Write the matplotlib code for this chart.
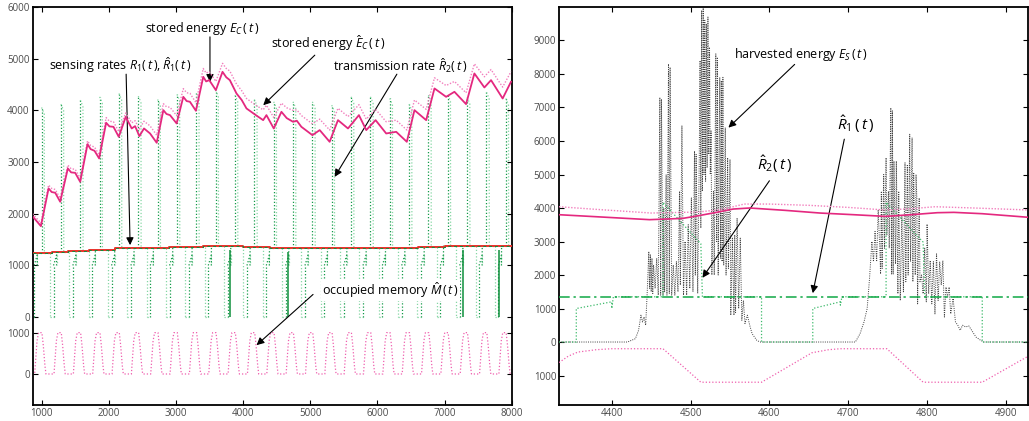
import numpy as np
import matplotlib
matplotlib.use('Agg')
import matplotlib.pyplot as plt
from matplotlib.collections import LineCollection

plt.rcParams['font.family'] = ['Open Sans', 'DejaVu Sans']
plt.rcParams['mathtext.fontset'] = 'custom'
plt.rcParams['mathtext.rm'] = 'Open Sans'
plt.rcParams['mathtext.it'] = 'Open Sans:italic'
plt.rcParams['mathtext.bf'] = 'Open Sans:bold'

# ---------------- LEFT PANEL DATA ----------------
ec_t = [866, 990, 1104, 1150, 1203, 1277, 1391, 1440, 1500, 1575, 1684, 1730, 1788, 1857, 1961,
        2010, 2070, 2149, 2253, 2342, 2392, 2456, 2525, 2615, 2714, 2813, 2860, 2912, 3011, 3110,
        3160, 3209, 3298, 3407, 3450, 3496, 3595, 3694, 3750, 3803, 3902, 3980, 4051, 4190, 4299,
        4348, 4457, 4571, 4650, 4744, 4800, 4868, 5032, 5141, 5289, 5413, 5562, 5725, 5834, 5973,
        6131, 6280, 6438, 6552, 6726, 6850, 7023, 7147, 7320, 7444, 7593, 7692, 7865, 7989]
ec_v = [1950, 1760, 2490, 2420, 2406, 2232, 2876, 2800, 2792, 2618, 3347, 3250, 3218, 3070, 3760,
        3690, 3682, 3489, 3875, 3650, 3695, 3502, 3650, 3553, 3373, 4004, 3930, 3908, 3747, 4262,
        4180, 4166, 3992, 4649, 4560, 4585, 4391, 4746, 4640, 4585, 4327, 4200, 4037, 3908, 3811,
        3908, 3650, 3972, 3850, 3779, 3800, 3682, 3521, 3618, 3392, 3811, 3650, 3908, 3618, 3811,
        3553, 3585, 3392, 4004, 3811, 4424, 4262, 4359, 4121, 4714, 4443, 4585, 4230, 4553]
ec_hat_v = [2000, 1820, 2555, 2490, 2470, 2300, 2940, 2870, 2860, 2690, 3410, 3320, 3290, 3140, 3860,
            3790, 3780, 3590, 3950, 3760, 3800, 3640, 3790, 3700, 3520, 4130, 4070, 4060, 3900, 4420,
            4340, 4330, 4150, 4810, 4720, 4750, 4560, 4910, 4810, 4760, 4510, 4380, 4230, 4100, 4010,
            4100, 3860, 4140, 4050, 4000, 4010, 3900, 3740, 3830, 3620, 4040, 3880, 4110, 3830, 4020,
            3780, 3810, 3620, 4200, 4020, 4630, 4480, 4560, 4340, 4900, 4650, 4790, 4450, 4750]

# sensing rate R1 (step values)
r1_t = [865, 1160, 1400, 1700, 2100, 2900, 3400, 4000, 4400, 5000, 5500, 6600, 7000, 7500, 8000]
r1_v = [1232, 1255, 1280, 1300, 1330, 1350, 1385, 1360, 1345, 1335, 1330, 1360, 1385, 1375, 1375]
r1_drop_t = [3803, 4670, 7268, 7812]
r1_drop_v = [0, 0, 0, 0]

# daily transmission bursts (R2 hat)
spike_times = [1000, 1288, 1576, 1864, 2152, 2440, 2728, 3016, 3304, 3592, 3880, 4168, 4456,
               4744, 5032, 5320, 5608, 5896, 6184, 6472, 6760, 7048, 7336, 7624, 7912]
spike_peaks = [4056, 4121, 4198, 4262, 4327, 4275, 4211, 4308, 4327, 4391, 4295, 4211, 4166,
               4166, 4166, 4101, 4262, 4262, 4230, 4121, 4295, 4295, 4250, 4350, 4230]
r2_off = [-110, -110, -65, -65, -63, 0, 0, 40, 42, 125, 125]
r2_kind = ['zero', 'start', 'ramp', 'start', 'lvl', 'lvl', 'peak', 'tail', 'lvl', 'lvl', 'zero']
r2_start, r2_ramp, r2_tail_drop = 1000, 1200, 120

# occupied memory (daily shape)
mem_off = [-45, 5, 25, 50, 65, 185, 200, 220]
mem_val = [1000, 1000, 700, 200, 0, 0, 350, 800]
mem_offset, mem_scale = -1100, 0.8

# ---------------- RIGHT PANEL DATA ----------------
es_t = [4333, 4420, 4430, 4434, 4437, 4439, 4441, 4443, 4445, 4447, 4448, 4449, 4450, 4451, 4452,
        4453, 4455, 4457, 4459, 4461, 4462, 4463, 4465, 4466, 4467, 4469, 4470, 4472, 4473, 4474,
        4476, 4478, 4480, 4482, 4484, 4486, 4487, 4489, 4491, 4493, 4495, 4497, 4499, 4501, 4503,
        4505, 4506, 4507, 4509, 4511, 4512, 4513, 4514, 4515, 4516, 4517, 4518, 4519, 4520, 4521,
        4522, 4523, 4524, 4525, 4526, 4527, 4529, 4530, 4532, 4533, 4534, 4535, 4537, 4538, 4539,
        4540, 4541, 4542, 4544, 4545, 4547, 4548, 4550, 4551, 4553, 4555, 4556, 4557, 4559, 4561,
        4563, 4565, 4567, 4569, 4572, 4575, 4578, 4584, 4588,
        4709, 4715, 4720, 4724, 4727, 4730, 4732, 4734, 4736, 4738, 4740, 4741, 4742, 4743, 4745,
        4746, 4748, 4749, 4751, 4752, 4754, 4755, 4756, 4757, 4758, 4760, 4761, 4763, 4764, 4766,
        4768, 4770, 4772, 4773, 4775, 4776, 4778, 4779, 4781, 4782, 4783, 4785, 4786, 4787, 4788,
        4790, 4791, 4793, 4795, 4797, 4799, 4800, 4802, 4804, 4806, 4808, 4810, 4812, 4814, 4816,
        4818, 4820, 4822, 4824, 4826, 4828, 4830, 4833, 4836, 4839, 4842, 4845, 4849, 4853, 4858,
        4862, 4868, 4872, 4928]
es_v = [0, 0, 100, 350, 800, 600, 750, 500, 1500, 2700, 1600, 2600, 1500, 2500, 1450,
        2300, 1600, 2500, 1400, 7300, 1400, 7250, 1400, 4000, 1500, 5000, 1400, 8300, 1450, 8200,
        1400, 2300, 1400, 2400, 1500, 4500, 1700, 6450, 1400, 3000, 1400, 3500, 1600, 4300, 1500,
        5700, 2000, 5600, 1450, 5500, 8400, 3400, 9900, 4500, 9970, 5000, 9600, 4800, 9500, 5200,
        9700, 5600, 8800, 5000, 6300, 2000, 4500, 2000, 8600, 3000, 8500, 2000, 7900, 2500, 7800,
        2400, 7900, 2300, 6400, 2000, 5500, 2200, 5450, 800, 3100, 800, 3200, 850, 3700, 1000,
        3100, 650, 1240, 550, 800, 500, 250, 50, 0,
        0, 250, 600, 1000, 1900, 3000, 2400, 3300, 2400, 3950, 2800, 2030, 4500, 2200, 5000,
        2800, 5500, 3200, 4500, 2800, 6990, 2030, 6900, 2030, 5400, 2330, 5400, 1440, 4500, 1240,
        3800, 1500, 5350, 1800, 5300, 2000, 6200, 2400, 6100, 1800, 5060, 2000, 5000, 4300, 1140,
        4300, 1800, 2000, 1440, 2800, 1200, 3520, 1440, 2430, 1140, 2400, 840, 2630, 1240, 2400,
        1700, 2430, 745, 1640, 1340, 1640, 840, 1300, 600, 500, 350, 500, 450, 480, 300,
        150, 50, 0, 0]

rec_t = [4333, 4380, 4448, 4490, 4510, 4535, 4554, 4575, 4620, 4664, 4707, 4747, 4780, 4813, 4834, 4870, 4930]
rec_v = [3800, 3740, 3652, 3690, 3770, 3880, 3969, 4000, 3930, 3850, 3800, 3750, 3800, 3860, 3870, 3830, 3720]
rech_t = [4333, 4380, 4450, 4510, 4540, 4568, 4600, 4650, 4700, 4747, 4780, 4810, 4860, 4930]
rech_v = [4038, 3960, 3850, 3880, 3960, 4118, 4118, 4080, 4018, 3940, 3980, 4038, 4000, 3940]

rr2_t = [4333, 4355, 4355, 4400, 4400, 4402, 4465, 4465, 4513, 4515, 4590, 4590, 4655, 4655,
         4690, 4690, 4692, 4748, 4748, 4795, 4797, 4870, 4870, 4928]
rr2_v = [0, 0, 1000, 1200, 1000, 1350, 1350, 4170, 2930, 1350, 1350, 0, 0, 1000,
         1200, 1100, 1350, 1350, 4170, 2980, 1350, 1350, 0, 0]
rr1_t = [4333, 4928]
rr1_v = [1345, 1345]
rmem_t = [4333, 4345, 4357, 4380, 4400, 4465, 4513, 4590, 4654, 4675, 4690, 4749, 4795, 4870, 4930]
rmem_v = [-614, -420, -300, -230, -200, -200, -1200, -1200, -320, -230, -200, -200, -1200, -1200, -400]

# ---------------- COLOURS / STYLES ----------------
C_EC = '#e4287f'
C_ECH = '#f27fbd'
C_G = '#3cb96a'
C_G_DARK = '#139a48'
C_G_LIGHT = '#86d7a4'
C_GD = '#0e8f3c'
C_RED = '#e8322b'
C_MEM = '#ef5fae'
DOT = (0, (1, 1.6))

fig = plt.figure(figsize=(10.29, 4.21), dpi=100)
axL = fig.add_axes([0.0316, 0.038, 0.4657, 0.9454])
axR = fig.add_axes([0.5432, 0.038, 0.4558, 0.9454])

def style(ax):
    ax.tick_params(direction='in', top=True, right=True, labelsize=7, labelcolor='#4a4a4a',
                   length=3.5, width=0.8, pad=2)
    for s in ax.spines.values():
        s.set_linewidth(1.3)

# ---- left ----
r2_t, r2_v = [865], [0]
for T, pk in zip(spike_times, spike_peaks):
    lvl = r1_v[int(np.searchsorted(r1_t, T, side='right')) - 1]
    vals = {'zero': 0, 'start': r2_start, 'ramp': r2_ramp, 'lvl': lvl,
            'peak': pk, 'tail': pk - r2_tail_drop}
    for off, kind in zip(r2_off, r2_kind):
        r2_t.append(T + off)
        r2_v.append(vals[kind])
segs, cols = [], []
for i in range(len(r2_t) - 1):
    segs.append([(r2_t[i], r2_v[i]), (r2_t[i + 1], r2_v[i + 1])])
    cols.append(C_G_DARK if r2_v[i + 1] > r2_v[i] else C_G_LIGHT)
axL.add_collection(LineCollection(segs, colors=cols, linewidths=0.9, linestyles=[DOT], zorder=2))

m_t, m_v = [865], [0]
for T in [spike_times[0] - 288] + spike_times:
    for off, val in zip(mem_off, mem_val):
        m_t.append(T + off)
        m_v.append(val)
m_t = np.array(m_t); m_v = np.array(m_v)
keep = m_t >= 865
axL.plot(m_t[keep], mem_offset + mem_scale * m_v[keep], color=C_MEM, lw=0.9, ls=DOT, zorder=2)

axL.plot(r1_t, r1_v, color=C_RED, lw=1.4, drawstyle='steps-post', zorder=4)
axL.plot(r1_t, r1_v, color=C_GD, lw=0.7, ls=(0, (3, 3)), drawstyle='steps-post', zorder=5)
for tt, vv in zip(r1_drop_t, r1_drop_v):
    lvl = r1_v[int(np.searchsorted(r1_t, tt, side='right')) - 1]
    axL.vlines(tt, vv, lvl - 80, color=C_GD, lw=1.1, zorder=3)

axL.plot(ec_t, ec_hat_v, color=C_ECH, lw=1.0, ls=(0, (1, 1.2)), zorder=5)
axL.plot(ec_t, ec_v, color=C_EC, lw=1.3, zorder=6)

axL.set_xlim(865, 8000)
axL.set_ylim(-1700, 6000)
axL.set_xticks([1000, 2000, 3000, 4000, 5000, 6000, 7000, 8000])
axL.set_yticks([6000, 5000, 4000, 3000, 2000, 1000, 0,
                mem_offset + mem_scale * 1000, mem_offset])
axL.set_yticklabels(['6000', '5000', '4000', '3000', '2000', '1000', '0', '1000', '0'])
style(axL)

arrow = dict(arrowstyle='-|>', color='black', lw=0.8, mutation_scale=11, shrinkA=0, shrinkB=0)
fs = 9
axL.text(3390, 5590, r'stored energy $E_C\,(\,t\,)$', fontsize=fs, ha='center', va='center')
axL.annotate('', xy=(3507, 4551), xytext=(3507, 5422), arrowprops=arrow)
axL.text(5275, 5300, r'stored energy $\hat{E}_C\,(\,t\,)$', fontsize=fs, ha='center', va='center')
axL.annotate('', xy=(4300, 4100), xytext=(5068, 5068), arrowprops=arrow)
axL.text(2171, 4874, r'sensing rates $R_1(\,t\,),\hat{R}_1(\,t\,)$', fontsize=fs, ha='center', va='center')
axL.annotate('', xy=(2318, 1393), xytext=(2259, 4700), arrowprops=arrow)
axL.text(6338, 4874, r'transmission rate $\hat{R}_2(\,t\,)$', fontsize=fs, ha='center', va='center')
axL.annotate('', xy=(5364, 2714), xytext=(6290, 4700), arrowprops=arrow)
axL.text(6197, 522, r'occupied memory $\hat{M}\,(\,t\,)$', fontsize=fs, ha='center', va='center',
         bbox=dict(facecolor='white', edgecolor='none', pad=0.5), zorder=7)
axL.annotate('', xy=(4201, -542), xytext=(5042, 439), arrowprops=arrow, zorder=8)

# ---- right ----
axR.plot(es_t, es_v, color='#404040', lw=0.7, ls=(0, (1, 1.3)), zorder=3)
axR.plot(rr2_t, rr2_v, color=C_G, lw=0.9, ls=DOT, zorder=4)
axR.plot(rr1_t, rr1_v, color='#10a845', lw=1.1, ls=(0, (7, 2.5, 1.5, 2.5)), zorder=5)
axR.plot(rmem_t, rmem_v, color=C_MEM, lw=0.9, ls=DOT, zorder=4)
axR.plot(rech_t, rech_v, color=C_ECH, lw=1.0, ls=(0, (1, 1.2)), zorder=5)
axR.plot(rec_t, rec_v, color=C_EC, lw=1.2, zorder=6)

axR.set_xlim(4333, 4928)
axR.set_ylim(-1880, 10000)
axR.set_xticks([4400, 4500, 4600, 4700, 4800, 4900])
axR.set_yticks([9000, 8000, 7000, 6000, 5000, 4000, 3000, 2000, 1000, 0, -1000])
axR.set_yticklabels(['9000', '8000', '7000', '6000', '5000', '4000', '3000', '2000', '1000', '0', '1000'])
style(axR)

axR.text(4640, 8583, r'harvested energy $E_S\,(\,t\,)$', fontsize=fs, ha='center', va='center')
axR.annotate('', xy=(4548, 6399), xytext=(4632, 8286), arrowprops=arrow)
axR.text(4607, 5318, r'$\hat{R}_2(\,t\,)$', fontsize=11, ha='center', va='center')
axR.annotate('', xy=(4515, 1917), xytext=(4600, 4813), arrowprops=arrow)
axR.text(4709, 6509, r'$\hat{R}_1\,(\,t\,)$', fontsize=11, ha='center', va='center')
axR.annotate('', xy=(4655, 1458), xytext=(4695, 6054), arrowprops=arrow)

fig.savefig('out.png', dpi=100)
